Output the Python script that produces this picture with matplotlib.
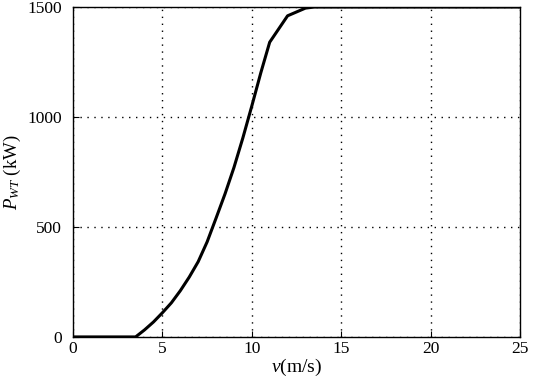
import matplotlib
matplotlib.use("Agg")
import matplotlib.pyplot as plt

plt.rcParams['font.family'] = ['Liberation Serif', 'DejaVu Serif']
plt.rcParams['mathtext.fontset'] = 'custom'
plt.rcParams['mathtext.rm'] = 'Liberation Serif'
plt.rcParams['mathtext.it'] = 'Liberation Serif:italic'

# wind speed (m/s) and turbine output (kW)
wind_speed = [0, 3.5, 4, 4.5, 5, 5.5, 6, 6.5, 7, 7.5, 8, 8.5, 9, 9.5, 10,
              10.5, 11, 12, 13, 13.5, 25]
power_kw = [0, 0, 32, 68, 110, 155, 210, 272, 342, 432, 540, 650, 770, 905, 1050,
            1200, 1340, 1460, 1495, 1500, 1500]

x_ticks = [0, 5, 10, 15, 20, 25]
y_ticks = [0, 500, 1000, 1500]

fig = plt.figure(figsize=(5.33, 3.79), dpi=100)
ax = fig.add_axes([0.137, 0.111, 0.8386, 0.8705])

ax.plot(wind_speed, power_kw, color='black', linewidth=2.2)

ax.set_xlim(0, 25)
ax.set_ylim(0, 1500)
ax.set_xticks(x_ticks)
ax.set_yticks(y_ticks)
ax.grid(True, color='black', linestyle=(0, (1, 4)), linewidth=1.0)
ax.tick_params(direction='in', length=4, labelsize=12.5, top=False, right=False)
ax.tick_params(axis='y', pad=8)
ax.tick_params(axis='x', pad=3)
for s in ax.spines.values():
    s.set_linewidth(1.0)

ax.set_xlabel(r'$v$(m/s)', fontsize=14, labelpad=0)
ax.set_ylabel(r'$P_{WT}$ (kW)', fontsize=13.5)
ax.yaxis.set_label_coords(-0.112, 0.5)

fig.savefig('out.png', dpi=100)
